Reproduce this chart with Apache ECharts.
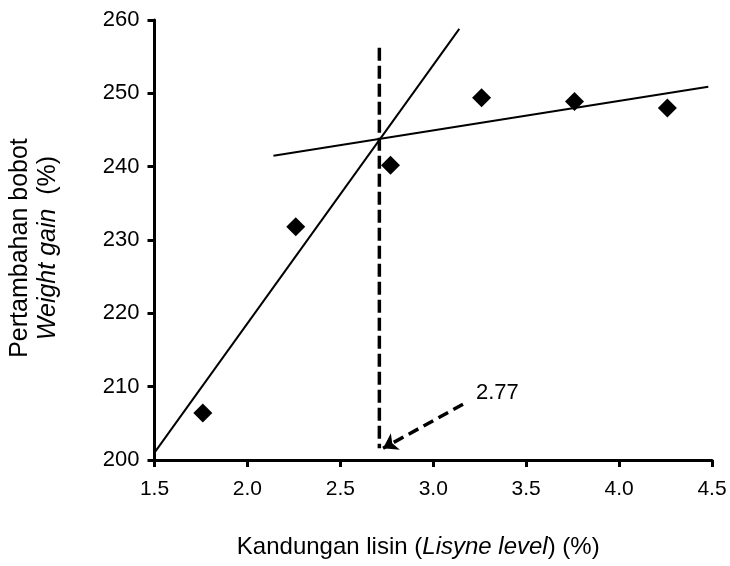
<!DOCTYPE html>
<html><head><meta charset="utf-8">
<script src="https://cdn.jsdelivr.net/npm/echarts@6/dist/echarts.min.js"></script>
<style>html,body{margin:0;padding:0;background:#fff}#c{width:730px;height:566px}</style>
</head><body><div id="c"></div>
<script>
// Observed data (lysine level %, weight gain %)
const lysine = [1.76, 2.26, 2.77, 3.26, 3.76, 4.26];
const weightGain = [206.4, 231.8, 240.2, 249.4, 248.9, 248.0];
// Broken-line regression segments (end points)
const steepLine = [[1.5, 201.0], [3.14, 258.8]];
const flatLine = [[2.14, 241.5], [4.48, 250.9]];
// Breakpoint marker
const breakX = 2.71;
const breakLine = [[breakX, 256.2], [breakX, 201.6]];
const arrowLine = [[3.16, 207.6], [2.73, 201.6]];
const breakLabel = '2.77';
const breakLabelPos = [3.23, 209.2];
const xTicks = {min: 1.5, max: 4.5, step: 0.5};
const yTicks = {min: 200, max: 260, step: 10};

const font = 'Liberation Sans, Arial, Helvetica, sans-serif';
const chart = echarts.init(document.getElementById('c'), null, {renderer: 'canvas'});
chart.setOption({
  animation: false,
  backgroundColor: '#fff',
  grid: {left: 152, right: 18, top: 20, bottom: 106, containLabel: false},
  xAxis: {
    type: 'value', min: xTicks.min, max: xTicks.max, interval: xTicks.step,
    axisLine: {lineStyle: {color: '#000', width: 3}},
    axisTick: {length: 7, lineStyle: {color: '#000', width: 3}},
    splitLine: {show: false},
    axisLabel: {color: '#000', fontSize: 21, fontFamily: font, margin: 19,
      formatter: v => v.toFixed(1)},
    name: '{n|Kandungan lisin (}{i|Lisyne level}{n|) (%)}',
    nameLocation: 'middle', nameGap: 75,
    nameTextStyle: {padding: [0, 30, 0, 0], rich: {
      n: {fontSize: 24, fontFamily: font, color: '#000'},
      i: {fontSize: 24, fontFamily: font, color: '#000', fontStyle: 'italic'}
    }}
  },
  yAxis: {
    type: 'value', min: yTicks.min, max: yTicks.max, interval: yTicks.step,
    axisLine: {lineStyle: {color: '#000', width: 3}},
    axisTick: {length: 7, lineStyle: {color: '#000', width: 3}},
    splitLine: {show: false},
    axisLabel: {color: '#000', fontSize: 22, fontFamily: font, margin: 15},
    name: '{n|Pertambahan bobot}\n{i|Weight gain}{n|  (%)}',
    nameLocation: 'middle', nameGap: 92, nameRotate: 90,
    nameTextStyle: {align: 'center', padding: [0, 16, 0, 0], rich: {
      n: {fontSize: 25, fontFamily: font, color: '#000', lineHeight: 28, align: 'center'},
      i: {fontSize: 25, fontFamily: font, color: '#000', fontStyle: 'italic', lineHeight: 28}
    }}
  },
  series: [
    {type: 'line', data: steepLine, symbol: 'none', lineStyle: {color: '#000', width: 2}, z: 2},
    {type: 'line', data: flatLine, symbol: 'none', lineStyle: {color: '#000', width: 2}, z: 2},
    {type: 'line', data: breakLine, symbol: 'none',
      lineStyle: {color: '#000', width: 3.5, type: [13, 5]}, z: 2},
    {type: 'lines', coordinateSystem: 'cartesian2d', z: 3,
      symbol: ['none', 'arrow'], symbolSize: 14,
      lineStyle: {color: '#000', width: 3.5, type: [11, 6], opacity: 1},
      data: [{coords: arrowLine}]},
    {type: 'scatter', data: [breakLabelPos], symbolSize: 0, itemStyle: {opacity: 1},
      label: {show: true, position: 'right', distance: 0, formatter: breakLabel,
        color: '#000', fontSize: 22, fontFamily: font}},
    {type: 'scatter', data: lysine.map((x, i) => [x, weightGain[i]]),
      symbol: 'diamond', symbolSize: [19, 19], itemStyle: {color: '#000', opacity: 1}, z: 5}
  ]
});
</script></body></html>
